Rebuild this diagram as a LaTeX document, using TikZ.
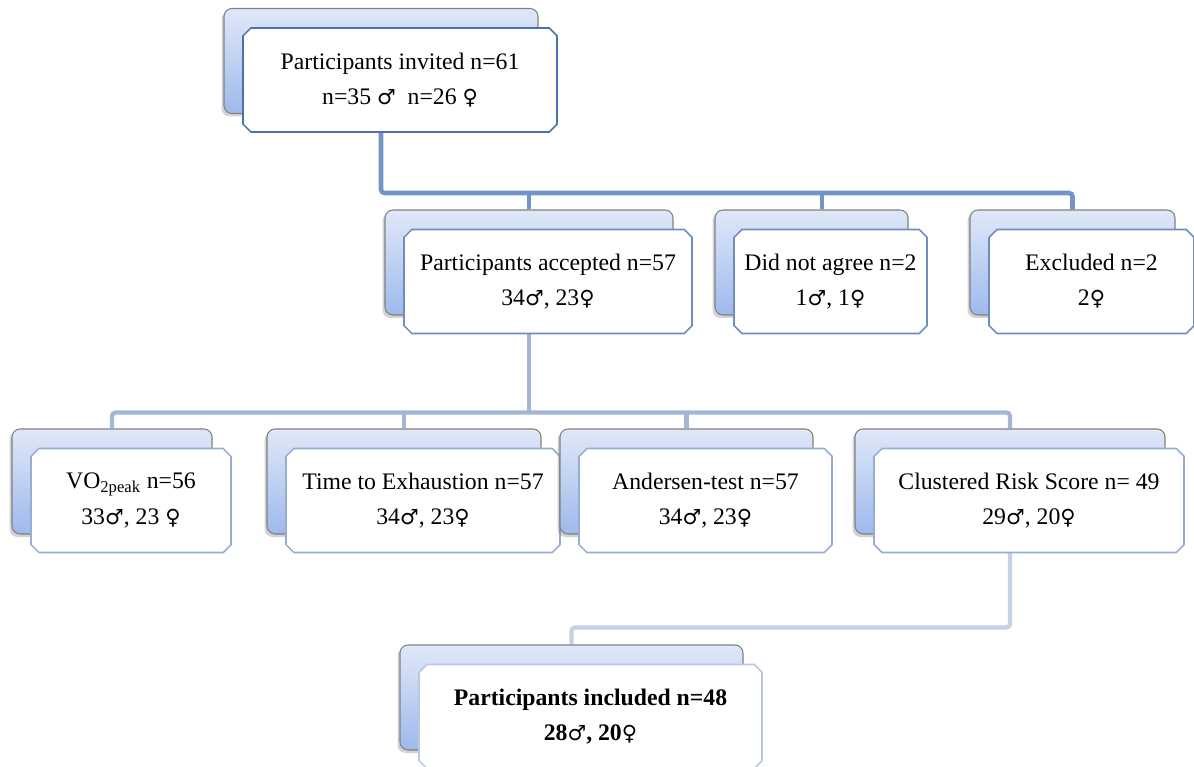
\documentclass[tikz,border=0pt]{standalone}
\usepackage{fontspec}
\setmainfont{Liberation Serif}
\newfontfamily\symfont[Scale=0.88]{DejaVu Sans}
\usetikzlibrary{shapes.misc,shadows,backgrounds}
\definecolor{linkA}{RGB}{114,148,198}
\definecolor{linkB}{RGB}{163,182,216}
\definecolor{linkC}{RGB}{197,209,229}
\definecolor{edgeA}{RGB}{74,114,176}
\definecolor{edgeB}{RGB}{110,142,194}
\definecolor{edgeC}{RGB}{150,173,212}
\definecolor{edgeD}{RGB}{185,200,226}
\definecolor{backTop}{RGB}{224,232,248}
\definecolor{backBot}{RGB}{158,185,236}
\newcommand{\symM}{{\symfont ♂}}
\newcommand{\symF}{{\symfont ♀}}
% back card + front card, front one is shifted down right
\newcommand{\drawStage}[5]{%
  \node [backbox, minimum width=#3] (#1-b) at #2 {};
  \node [frontbox, draw=#4, minimum width=#3] (#1) at ([shift={(0.38,-0.38)}]#1-b) {#5};}
\tikzset{
  backbox/.style={rounded corners=0.16cm, draw=gray, line width=0.6pt,
    top color=backTop, bottom color=backBot, minimum height=2.1cm,
    drop shadow={shadow xshift=-0.05cm, shadow yshift=-0.06cm, opacity=0.35}},
  frontbox/.style={chamfered rectangle, chamfered rectangle xsep=0.05cm,
    fill=white, line width=0.9pt, minimum height=2.08cm, inner sep=2pt,
    align=center, font=\fontsize{13.5}{20}\selectfont},
  linkA/.style={draw=linkA, line width=2.6pt, rounded corners=2pt},
  linkB/.style={draw=linkB, line width=2.4pt, rounded corners=2pt},
  linkC/.style={draw=linkC, line width=2.4pt, rounded corners=2pt}
}
\begin{document}
\begin{tikzpicture}
    \useasboundingbox (0,0) rectangle (23.88,-15.34);

    % invited
    \drawStage{inv}{(7.62,-1.22)}{6.28cm}{edgeA}{Participants invited n=61\\n=35 \symM{}\ \ n=26 \symF};

    % second row
    \drawStage{acc}{(10.58,-5.25)}{5.76cm}{edgeB}{Participants accepted n=57\\34\symM, 23\symF};
    \drawStage{dna}{(16.23,-5.25)}{3.86cm}{edgeB}{Did not agree n=2\\1\symM, 1\symF};
    \drawStage{exc}{(21.45,-5.25)}{4.10cm}{edgeB}{Excluded n=2\\2\symF};

    % tests
    \drawStage{vo2}{(2.24,-9.63)}{4.0cm}{edgeC}{VO\textsubscript{2peak} n=56\\33\symM, 23 \symF};
    \drawStage{tte}{(8.08,-9.63)}{5.48cm}{edgeC}{Time to Exhaustion n=57\\34\symM, 23\symF};
    \drawStage{and}{(13.73,-9.63)}{5.06cm}{edgeC}{Andersen-test n=57\\34\symM, 23\symF};
    \drawStage{crs}{(20.20,-9.63)}{6.20cm}{edgeC}{Clustered Risk Score n= 49\\29\symM, 20\symF};

    % included
    \drawStage{inc}{(11.43,-13.95)}{6.86cm}{edgeD}{\bfseries Participants included n=48\\\bfseries 28\symM, 20\symF};

    \begin{scope}[on background layer]
    \coordinate (dna-top) at ([xshift=0.21cm]dna-b.north);
    \draw [linkA] (inv-b.south) -- ++(0,-1.58) coordinate (fork1) -| (exc-b.north);
    \draw [linkA] (fork1 -| acc-b.north) -- (acc-b.north);
    \draw [linkA] (fork1 -| dna-top) -- (dna-top);

    \draw [linkB] (acc-b.south) -- ++(0,-1.94) coordinate (fork2);
    \draw [linkB] (vo2-b.north) |- (fork2) -| (crs-b.north);
    \draw [linkB] (fork2 -| tte-b.north) -- (tte-b.north);
    \draw [linkB] (fork2 -| and-b.north) -- (and-b.north);

    \draw [linkC] (crs-b.south) -- ++(0,-1.86) -| (inc-b.north);
    \end{scope}
\end{tikzpicture}
\end{document}
